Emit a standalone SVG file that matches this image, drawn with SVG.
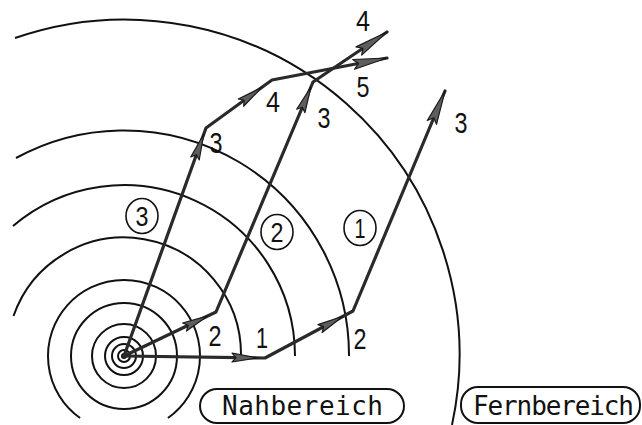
<svg xmlns="http://www.w3.org/2000/svg" width="642" height="425" viewBox="0 0 642 425">
<style>
.ring{fill:none;stroke:#111;stroke-width:2}
.ray{fill:none;stroke:#2a2a2a;stroke-width:3.2;stroke-linejoin:round;stroke-linecap:round}
.head{fill:#5e5e5e;stroke:#1a1a1a;stroke-width:1.2;stroke-linejoin:round}
.num{font-family:"Liberation Sans",Arial,sans-serif;font-size:29px;fill:#111;text-anchor:middle}
.cnum{font-family:"Liberation Sans",Arial,sans-serif;font-size:27px;fill:#111;text-anchor:middle}
.circ{fill:none;stroke:#111;stroke-width:1.6}
.box{fill:none;stroke:#111;stroke-width:2}
.lbl{font-family:"DejaVu Sans Mono","Liberation Mono",monospace;font-size:26px;fill:#111}
</style>
<defs>
<path id="ah" class="head" d="M0,0 L-26,-4.5 L-22,0 L-26,4.5 Z"/>
<path id="ahl" class="head" d="M0,0 L-34,-5 L-29,0 L-34,5 Z"/>
</defs>
<rect width="642" height="425" fill="#fff"/>
<g id="wavefronts">
<circle class="ring" cx="124" cy="356" r="2" fill="#111"/>
<circle class="ring" cx="124" cy="356" r="6"/>
<circle class="ring" cx="124" cy="356" r="12"/>
<circle class="ring" cx="124" cy="356" r="19"/>
<circle class="ring" cx="124" cy="356" r="32"/>
<circle class="ring" cx="124" cy="356" r="53"/>
<path class="ring" d="M80.1,418 A76,76 0 1 1 167.9,418"/>
<path class="ring" d="M13.5,316 A117,117 0 0 1 241,356"/>
<path class="ring" d="M13,226 A171,171 0 0 1 295,356"/>
<path class="ring" d="M16,158 A225,225 0 0 1 349,356"/>
<path class="ring" d="M15,38 A335,335 0 0 1 452,425"/>
</g>
<g id="connectors">
<polyline id="ray1" class="ray" points="124,356 265,358 353,311 445,91"/>
<polyline id="ray2" class="ray" points="124,356 216,312 313,82 387,32"/>
<polyline id="ray3" class="ray" points="124,356 206,128 272,80 387,58"/>
<use href="#ah" transform="translate(258,357.9) rotate(0.81)"/>
<use href="#ah" transform="translate(343,316.3) rotate(-28.1)"/>
<use href="#ahl" transform="translate(445,91) rotate(-67.3)"/>
<use href="#ah" transform="translate(208,315.8) rotate(-25.56)"/>
<use href="#ah" transform="translate(310.9,87) rotate(-67.13)"/>
<use href="#ahl" transform="translate(387,32) rotate(-34.04)"/>
<use href="#ah" transform="translate(203.8,134) rotate(-70.22)"/>
<use href="#ah" transform="translate(262,87.3) rotate(-36.03)"/>
<use href="#ahl" transform="translate(387,58) rotate(-10.83)"/>
</g>
<g id="ray-labels">
<text class="num" x="363" y="31" textLength="14" lengthAdjust="spacingAndGlyphs">4</text>
<text class="num" x="363" y="97" textLength="13" lengthAdjust="spacingAndGlyphs">5</text>
<text class="num" x="273" y="112" textLength="14" lengthAdjust="spacingAndGlyphs">4</text>
<text class="num" x="324" y="128" textLength="13" lengthAdjust="spacingAndGlyphs">3</text>
<text class="num" x="216" y="153" textLength="13" lengthAdjust="spacingAndGlyphs">3</text>
<text class="num" x="461" y="133" textLength="13" lengthAdjust="spacingAndGlyphs">3</text>
<text class="num" x="215" y="346" textLength="13" lengthAdjust="spacingAndGlyphs">2</text>
<text class="num" x="262" y="348" textLength="12" lengthAdjust="spacingAndGlyphs">1</text>
<text class="num" x="360" y="349" textLength="13" lengthAdjust="spacingAndGlyphs">2</text>
</g>
<g id="path3-label"><ellipse class="circ" cx="142" cy="216" rx="16" ry="17.5"/><text class="cnum" x="142" y="226" textLength="13" lengthAdjust="spacingAndGlyphs">3</text></g>
<g id="path2-label"><ellipse class="circ" cx="277" cy="232" rx="16" ry="17.5"/><text class="cnum" x="277" y="242" textLength="13" lengthAdjust="spacingAndGlyphs">2</text></g>
<g id="path1-label"><ellipse class="circ" cx="360" cy="228" rx="16" ry="17.5"/><text class="cnum" x="360" y="238" textLength="11" lengthAdjust="spacingAndGlyphs">1</text></g>
<g id="nahbereich">
<rect class="box" x="200" y="389" width="204" height="34" rx="17"/>
<text class="lbl" x="222" y="415" textLength="161" lengthAdjust="spacing">Nahbereich</text>
</g>
<g id="fernbereich">
<rect class="box" x="461" y="387" width="179" height="36" rx="17"/>
<text class="lbl" x="473" y="415" textLength="161" lengthAdjust="spacing">Fernbereich</text>
</g>
</svg>
